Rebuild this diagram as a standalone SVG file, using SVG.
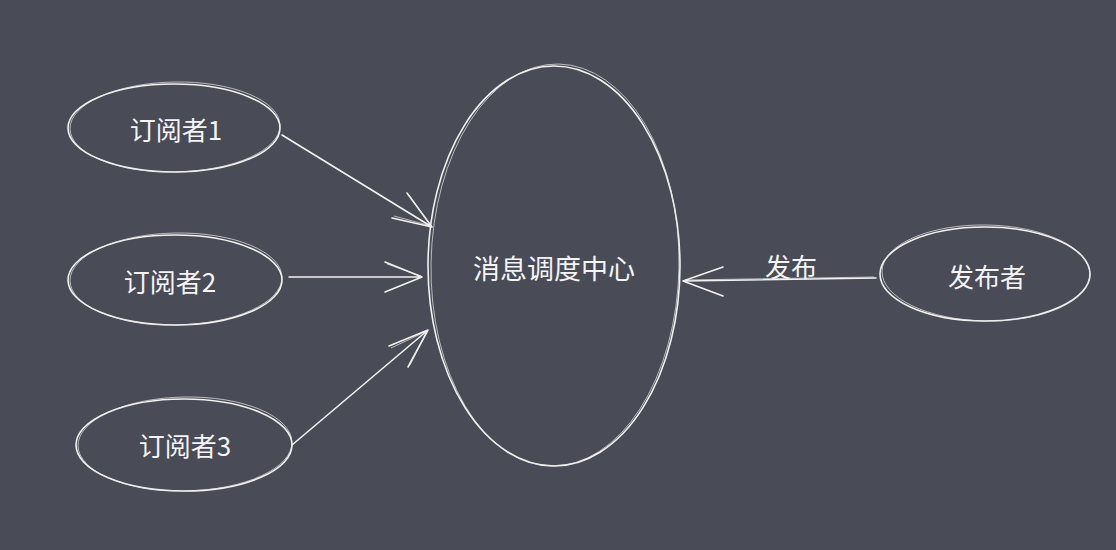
<svg xmlns="http://www.w3.org/2000/svg" width="1116" height="550" viewBox="0 0 1116 550">
<style>
.sk{fill:none;stroke:#f2f2f2;stroke-width:1.6;stroke-linecap:round;stroke-linejoin:round}
.sk2{fill:none;stroke:#e8e8e8;stroke-width:0.9;opacity:0.8}
.t{fill:#f4f4f4;font-family:"Noto Sans CJK SC","Noto Sans",sans-serif;font-size:26px;text-anchor:middle;dominant-baseline:central}
</style>
<rect width="1116" height="550" fill="#494b56"/>
<g id="sub1">
<ellipse class="sk" cx="174" cy="128" rx="106" ry="44"/>
<ellipse class="sk2" cx="175" cy="127" rx="105" ry="45" transform="rotate(-1 175 127)"/>
<text class="t" x="176" y="128">订阅者1</text>
</g>
<g id="sub2">
<ellipse class="sk" cx="175" cy="280" rx="107" ry="45"/>
<ellipse class="sk2" cx="176" cy="279" rx="106" ry="46" transform="rotate(-1 176 279)"/>
<text class="t" x="170" y="280">订阅者2</text>
</g>
<g id="sub3">
<ellipse class="sk" cx="184" cy="445" rx="108" ry="46"/>
<ellipse class="sk2" cx="185" cy="444" rx="107" ry="47" transform="rotate(-1 185 444)"/>
<text class="t" x="185" y="444">订阅者3</text>
</g>
<g id="center">
<ellipse class="sk" cx="554" cy="266" rx="126" ry="200"/>
<ellipse class="sk2" cx="555" cy="265" rx="124" ry="201" transform="rotate(1 555 265)"/>
<text class="t" x="554" y="267" style="font-size:27px">消息调度中心</text>
</g>
<g id="publisher">
<ellipse class="sk" cx="985" cy="274" rx="105" ry="47"/>
<ellipse class="sk2" cx="986" cy="273" rx="104" ry="48" transform="rotate(1 986 273)"/>
<text class="t" x="987" y="275">发布者</text>
</g>
<g id="connectors">
<path class="sk" d="M282 135 L432 227 M392 218 L432 227 L407 193"/>
<path class="sk2" d="M394 216 L431 226 L409 195"/>
<path class="sk" d="M289 277 L422 277 M385 262 L422 277 L385 292"/>
<path class="sk2" d="M387 264 L421 276"/>
<path class="sk" d="M292 445 L428 330 M389 346 L428 330 L408 367"/>
<path class="sk2" d="M391 348 L427 331 L410 365"/>
<path class="sk" d="M876 278 L683 281 M723 267 L683 281 L723 296"/>
<path class="sk2" d="M874 277 L685 280"/>
<text class="t" x="791" y="265">发布</text>
</g>
</svg>
